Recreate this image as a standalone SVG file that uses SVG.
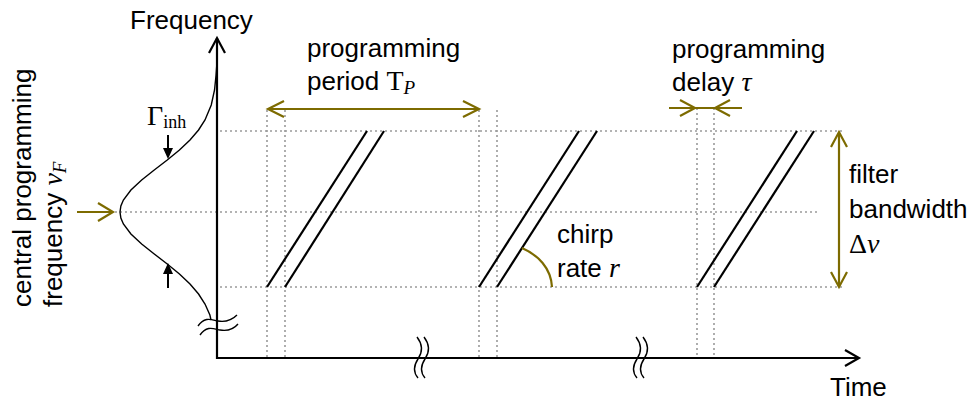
<svg xmlns="http://www.w3.org/2000/svg" width="980" height="401" viewBox="0 0 980 401">
<style>
.t{font-family:"Liberation Sans",Arial,sans-serif;font-size:26px;fill:#000}
.m{font-family:"Liberation Serif","Times New Roman",serif;font-size:28px}
.i{font-style:italic}
.sub{font-size:19px}
.dot{stroke:#9a9a9a;stroke-width:1.6;stroke-dasharray:2 3;fill:none}
.ax{stroke:#000;stroke-width:2.2;fill:none}
.ch{stroke:#000;stroke-width:2.2;fill:none}
.ol{stroke:#7d6b00;stroke-width:2.2;fill:none}
.thin{stroke:#000;stroke-width:1.4;fill:none}
</style>
<rect width="980" height="401" fill="#fff"/>
<g id="grid">
<line class="dot" x1="220" y1="131" x2="843" y2="131"/>
<line class="dot" x1="115" y1="212" x2="820" y2="212"/>
<line class="dot" x1="220" y1="287" x2="845" y2="287"/>
<line class="dot" x1="267" y1="110" x2="267" y2="358"/>
<line class="dot" x1="285" y1="110" x2="285" y2="358"/>
<line class="dot" x1="479" y1="110" x2="479" y2="358"/>
<line class="dot" x1="497" y1="110" x2="497" y2="358"/>
<line class="dot" x1="697" y1="108" x2="697" y2="358"/>
<line class="dot" x1="714" y1="108" x2="714" y2="358"/>
</g>
<g id="axes">
<path class="ax" d="M217,38 V358 H858"/>
<path class="ax" d="M209,53 L217,38 L225,53"/>
<path class="ax" d="M845,350 L859,358 L845,366"/>
<path class="thin" d="M417,337 C424,346 422,353 418,359 C414,365 413,372 418,378"/>
<path class="thin" d="M424,337 C431,346 429,353 425,359 C421,365 420,372 425,378"/>
<path class="thin" d="M636,337 C643,346 641,353 637,359 C633,365 632,372 637,378"/>
<path class="thin" d="M643,337 C650,346 648,353 644,359 C640,365 639,372 644,378"/>
<path class="thin" d="M198,326 C205,316 212,320 218,321 C224,322 231,321 237,315"/>
<path class="thin" d="M200,335 C207,325 214,329 220,330 C226,331 233,330 238,324"/>
<text class="t" x="130" y="29">Frequency</text>
<text class="t" x="830" y="396">Time</text>
</g>
<g id="gaussian">
<polyline class="thin" points="217,62 216.06,75 214.54,90 211.26,105 205,120 198.56,130 190,140 179.46,150 167.25,160 154.25,170 141.67,180 130.92,190 123.39,200 120.86,206 120,212 120.86,218 123.39,224 130.92,234 141.67,244 154.25,254 167.25,264 179.46,274 190,284 198.56,294 205,304 209.9,315 211,320"/>
<line x1="168" y1="135" x2="168" y2="150" stroke="#000" stroke-width="2"/>
<polygon points="163,148 173,148 168,159" fill="#000"/>
<line x1="168" y1="288" x2="168" y2="273" stroke="#000" stroke-width="2"/>
<polygon points="163,274 173,274 168,263" fill="#000"/>
<text class="m" x="147" y="125" font-size="25">Γ<tspan font-size="18" dy="3">inh</tspan></text>
</g>
<g id="chirps">
<line class="ch" x1="267" y1="287" x2="367" y2="131"/>
<line class="ch" x1="285" y1="287" x2="384" y2="131"/>
<line class="ch" x1="479" y1="287" x2="579" y2="131"/>
<line class="ch" x1="497" y1="287" x2="597" y2="131"/>
<line class="ch" x1="697" y1="287" x2="797" y2="131"/>
<line class="ch" x1="714" y1="287" x2="814" y2="131"/>
</g>
<g id="central-frequency">
<line class="ol" x1="77" y1="212" x2="112" y2="212"/>
<path class="ol" d="M98,203 L113,212 L98,221"/>
<text class="t" transform="translate(31,307) rotate(-90)">central programming</text>
<text class="t" transform="translate(62,307) rotate(-90)">frequency <tspan class="m i">ν</tspan><tspan class="m i sub" dy="4">F</tspan></text>
</g>
<g id="programming-period">
<line class="ol" x1="268" y1="109" x2="478" y2="109"/>
<path class="ol" d="M284,101 L268,109 L284,117"/>
<path class="ol" d="M463,101 L479,109 L463,117"/>
<text class="t" x="307" y="57">programming</text>
<text class="t" x="307" y="90">period <tspan class="m">T</tspan><tspan class="m i sub" dy="4">P</tspan></text>
</g>
<g id="programming-delay">
<line class="ol" x1="669" y1="108" x2="742" y2="108"/>
<path class="ol" d="M680,100 L695,108 L680,116"/>
<path class="ol" d="M730,100 L715,108 L730,116"/>
<text class="t" x="672" y="58">programming</text>
<text class="t" x="672" y="91">delay <tspan class="m i">τ</tspan></text>
</g>
<g id="chirp-rate">
<path class="ol" d="M522,248 C538,255 551,268 552,287"/>
<text class="t" x="557" y="243">chirp</text>
<text class="t" x="557" y="277">rate <tspan class="m i">r</tspan></text>
</g>
<g id="filter-bandwidth">
<line class="ol" x1="839" y1="133" x2="839" y2="286"/>
<path class="ol" d="M831,147 L839,132 L847,147"/>
<path class="ol" d="M831,272 L839,287 L847,272"/>
<text class="t" x="849" y="183">filter</text>
<text class="t" x="849" y="218">bandwidth</text>
<text class="t" x="849" y="253"><tspan class="m">Δ</tspan><tspan class="m i">ν</tspan></text>
</g>
</svg>
